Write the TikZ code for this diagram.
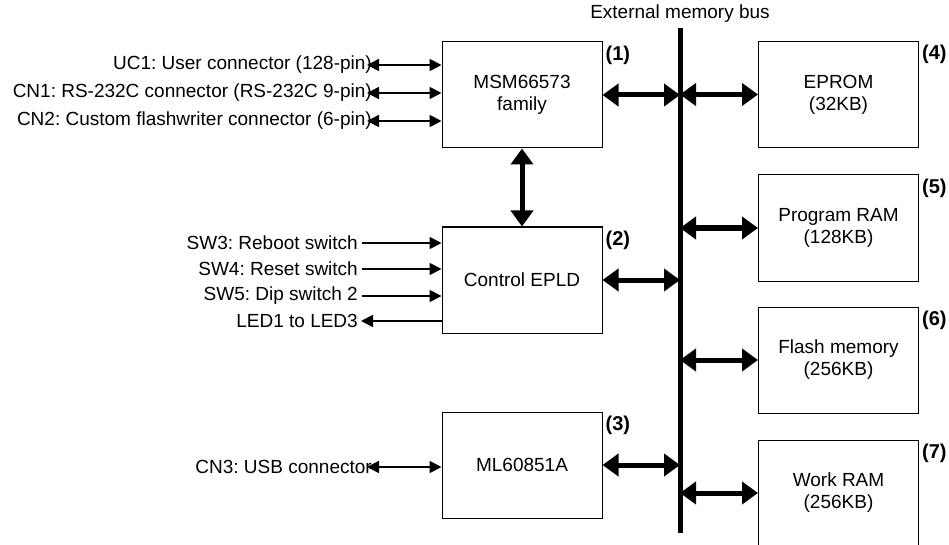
\documentclass[tikz,border=0pt]{standalone}
\usepackage{fontspec}
\setmainfont{Liberation Sans}
\usetikzlibrary{arrows.meta}
\frenchspacing
\tikzset{
  blk/.style={draw, line width=1pt, minimum width=160pt, minimum height=106pt,
    align=center, inner sep=0pt, font=\fontsize{19}{22}\selectfont},
  lbl/.style={inner sep=0pt, font=\fontsize{19}{22}\selectfont},
  num/.style={inner sep=0pt, anchor=north west, font=\bfseries\fontsize{20}{22}\selectfont},
  thin/.style={line width=1.8pt, -{Triangle[length=12pt,width=12pt]}},
  thinboth/.style={line width=1.8pt, {Triangle[length=12pt,width=12pt]}-{Triangle[length=12pt,width=12pt]}},
  thick/.style={line width=5pt, {Triangle[length=16pt,width=22pt]}-{Triangle[length=16pt,width=22pt]}},
}
\begin{document}
\begin{tikzpicture}[x=1pt,y=-1pt]
  \useasboundingbox (0,0) rectangle (949,545);

  % the bus
  \coordinate (bustop) at (680,28);
  \coordinate (busbot) at (680,533);
  \draw [line width=5pt] (bustop) -- (busbot);
  \node [lbl] (busname) at (680,14) {External memory bus};

  % blocks on the left of the bus
  \node [blk] (msm)  at (522,95)  {MSM66573\\family};
  \node [blk] (epld) at (522,280) {Control EPLD};
  \node [blk] (usb)  at (522,465) {ML60851A};

  % memories on the right of the bus
  \node [blk] (eprom) at (838.5,94.5) {EPROM\\(32KB)};
  \node [blk] (pram)  at (838.5,228)  {Program RAM\\(128KB)};
  \node [blk] (flash) at (838.5,360)  {Flash memory\\(256KB)};
  \node [blk] (wram)  at (838.5,493)  {Work RAM\\(256KB)};

  % numbers
  \node [num] at ([shift={(3pt,-4pt)}]msm.north east)   {(1)};
  \node [num] at ([shift={(3pt,-4pt)}]epld.north east)  {(2)};
  \node [num] at ([shift={(3pt,-4pt)}]usb.north east)   {(3)};
  \node [num] at ([shift={(3pt,-4pt)}]eprom.north east) {(4)};
  \node [num] at ([shift={(3pt,-4pt)}]pram.north east)  {(5)};
  \node [num] at ([shift={(3pt,-4pt)}]flash.north east) {(6)};
  \node [num] at ([shift={(3pt,-4pt)}]wram.north east)  {(7)};

  % connectors of the MSM66573
  \node [lbl, anchor=east] (uc1) at (372,65)  {UC1: User connector (128-pin)};
  \node [lbl, anchor=east] (cn1) at (372,93)  {CN1: RS-232C connector (RS-232C 9-pin)};
  \node [lbl, anchor=east] (cn2) at (372,121) {CN2: Custom flashwriter connector (6-pin)};
  \draw [thinboth] ([xshift=-5pt]uc1.east) -- (uc1.east -| msm.west);
  \draw [thinboth] ([xshift=-5pt]cn1.east) -- (cn1.east -| msm.west);
  \draw [thinboth] ([xshift=-5pt]cn2.east) -- (cn2.east -| msm.west);

  % switches and LEDs of the EPLD
  \node [lbl, anchor=east] (sw3) at (358,243) {SW3: Reboot switch};
  \node [lbl, anchor=east] (sw4) at (358,269) {SW4: Reset switch};
  \node [lbl, anchor=east] (sw5) at (358,296) {SW5: Dip switch 2};
  \node [lbl, anchor=east] (led) at (358,321) {LED1 to LED3};
  \draw [thin] ([xshift=4pt]sw3.east) -- (sw3.east -| epld.west);
  \draw [thin] ([xshift=4pt]sw4.east) -- (sw4.east -| epld.west);
  \draw [thin] ([xshift=4pt]sw5.east) -- (sw5.east -| epld.west);
  \draw [thin] (led.east -| epld.west) -- ([xshift=3pt]led.east);

  % USB connector
  \node [lbl, anchor=east] (cn3) at (372,467) {CN3: USB connector};
  \draw [thinboth] ([xshift=-5pt]cn3.east) -- (cn3.east -| usb.west);

  % MSM to EPLD
  \draw [thick] (msm.south) -- (epld.north);

  % to and from the bus
  \draw [thick] (msm.east) -- (msm.east -| bustop);
  \draw [thick] (epld.east) -- (epld.east -| bustop);
  \draw [thick] (usb.east) -- (usb.east -| bustop);
  \draw [thick] (eprom.west -| bustop) -- (eprom.west);
  \draw [thick] (pram.west -| bustop) -- (pram.west);
  \draw [thick] (flash.west -| bustop) -- (flash.west);
  \draw [thick] (wram.west -| bustop) -- (wram.west);
\end{tikzpicture}
\end{document}
